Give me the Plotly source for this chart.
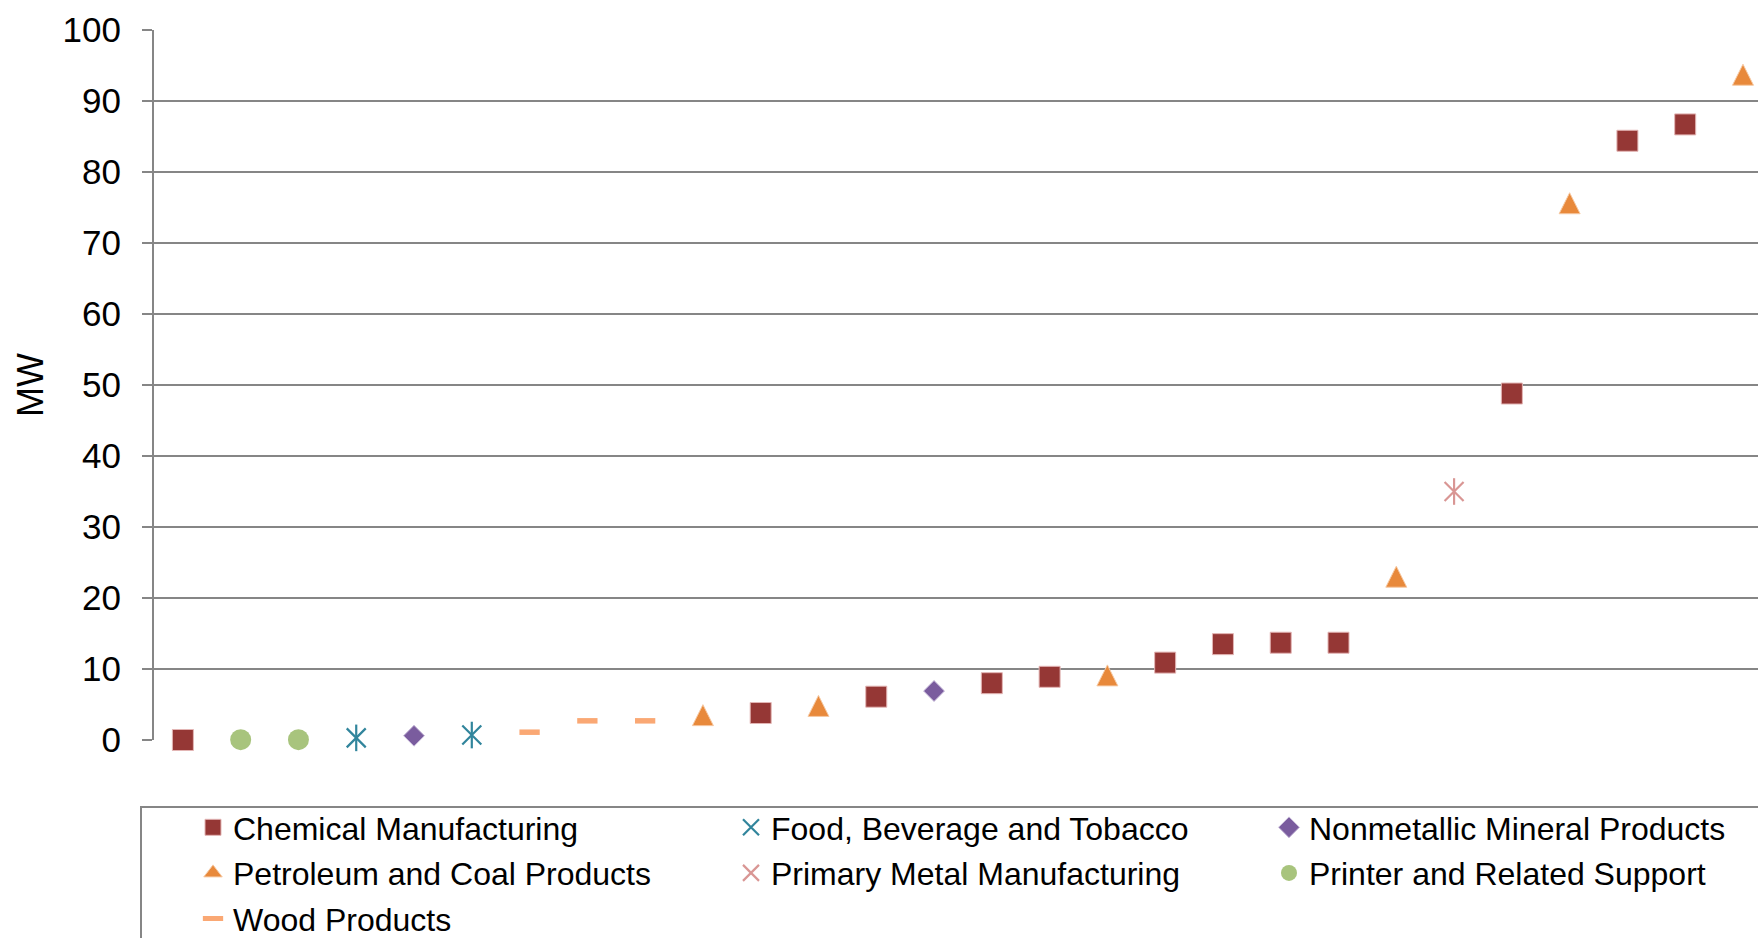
import plotly.graph_objects as go

# Facilities ranked by capacity (MW), left to right
rank = list(range(1, 29))
capacity_mw = [0.0, 0.05, 0.05, 0.3, 0.6, 0.7, 1.1, 2.7, 2.7, 3.5,
               3.8, 4.8, 6.1, 6.9, 8.0, 8.9, 9.1, 10.9, 13.5, 13.7,
               13.7, 23.0, 35.0, 48.8, 75.6, 84.4, 86.7, 93.7]
sector = [
    "Chemical Manufacturing", "Printer and Related Support", "Printer and Related Support",
    "Food, Beverage and Tobacco", "Nonmetallic Mineral Products", "Food, Beverage and Tobacco",
    "Wood Products", "Wood Products", "Wood Products",
    "Petroleum and Coal Products", "Chemical Manufacturing", "Petroleum and Coal Products",
    "Chemical Manufacturing", "Nonmetallic Mineral Products", "Chemical Manufacturing",
    "Chemical Manufacturing", "Petroleum and Coal Products", "Chemical Manufacturing",
    "Chemical Manufacturing", "Chemical Manufacturing", "Chemical Manufacturing",
    "Petroleum and Coal Products", "Primary Metal Manufacturing", "Chemical Manufacturing",
    "Petroleum and Coal Products", "Chemical Manufacturing", "Chemical Manufacturing",
    "Petroleum and Coal Products",
]
# legend columns, read top to bottom
legend_columns = [
    ["Chemical Manufacturing", "Petroleum and Coal Products", "Wood Products"],
    ["Food, Beverage and Tobacco", "Primary Metal Manufacturing"],
    ["Nonmetallic Mineral Products", "Printer and Related Support"],
]

FONT = "Arial, Liberation Sans, sans-serif"
GRID = "#868686"
STAR_SIZE = 19

styles = {
    "Chemical Manufacturing": dict(symbol="square", size=21, color="#953735",
                                   line=dict(color="#E3B5B4", width=1)),
    "Food, Beverage and Tobacco": dict(symbol="x-thin-open", size=STAR_SIZE, color="#31859C",
                                       line=dict(color="#31859C", width=2.2)),
    "Nonmetallic Mineral Products": dict(symbol="diamond", size=16, color="#7A5C9E",
                                         line=dict(color="#C3B5D6", width=1)),
    "Petroleum and Coal Products": dict(symbol="arrow-down", angle=180, standoff=10.5, size=21,
                                        color="#E8893B", line=dict(color="#F6C9A3", width=1)),
    "Primary Metal Manufacturing": dict(symbol="x-thin-open", size=STAR_SIZE, color="#D99694",
                                        line=dict(color="#D99694", width=2.2)),
    "Printer and Related Support": dict(symbol="circle", size=21, color="#A8C47D",
                                        line=dict(color="#A8C47D", width=0)),
    "Wood Products": dict(symbol="line-ew-open", size=14.5, color="#FAA874",
                          line=dict(color="#FAA874", width=5.5)),
}
# star-shaped markers get an extra vertical stroke
star_sectors = {"Food, Beverage and Tobacco", "Primary Metal Manufacturing"}
# the legend swatch of the shifted triangle uses a plain triangle symbol
legend_swatch = {
    "Petroleum and Coal Products": dict(symbol="triangle-up", size=16, color="#E8893B",
                                        line=dict(color="#F6C9A3", width=1)),
}

legend_ids = ["legend", "legend2", "legend3"]

fig = go.Figure()
for col, names in enumerate(legend_columns):
    for name in names:
        xs = [r for r, s in zip(rank, sector) if s == name]
        ys = [v for v, s in zip(capacity_mw, sector) if s == name]
        swatch = legend_swatch.get(name)
        fig.add_trace(go.Scatter(
            x=xs, y=ys, mode="markers", name=name, legendgroup=name,
            legend=legend_ids[col], showlegend=swatch is None,
            marker=styles[name], cliponaxis=False,
        ))
        if swatch is not None:
            fig.add_trace(go.Scatter(
                x=[None], y=[None], mode="markers", name=name, legendgroup=name,
                legend=legend_ids[col], marker=swatch, hoverinfo="skip",
            ))
        if name in star_sectors:
            c = styles[name]["color"]
            fig.add_trace(go.Scatter(
                x=xs, y=ys, mode="markers", name=name, legendgroup=name, showlegend=False,
                marker=dict(symbol="line-ns-open", size=STAR_SIZE, color=c,
                            line=dict(color=c, width=2.2)),
                cliponaxis=False,
            ))

W, H = 1758, 938
ML, MT, MB = 154, 30, 198
plot_w = W - ML
plot_h = H - MT - MB


def px_x(x):
    return (x - ML) / plot_w


def px_y(y):
    return (H - MB - y) / plot_h


# frame around the legend
fig.add_shape(type="rect", xref="paper", yref="paper",
              x0=px_x(141), x1=px_x(1790), y0=px_y(980), y1=px_y(807),
              line=dict(color=GRID, width=2), fillcolor="rgba(0,0,0,0)", layer="above")

legend_style = dict(
    orientation="v", xanchor="left", yanchor="top",
    font=dict(family=FONT, size=32, color="black"),
    bgcolor="rgba(0,0,0,0)", borderwidth=0, tracegroupgap=1,
    itemclick=False, itemdoubleclick=False,
)
legend_left_px = [193, 731, 1269]
legend_top_px = 800

fig.update_layout(
    width=W, height=H,
    margin=dict(l=ML, r=0, t=MT, b=MB, autoexpand=False),
    paper_bgcolor="white", plot_bgcolor="white",
    font=dict(family=FONT, color="black", size=32),
    showlegend=True,
    legend=dict(legend_style, x=px_x(legend_left_px[0]), y=px_y(legend_top_px)),
    legend2=dict(legend_style, x=px_x(legend_left_px[1]), y=px_y(legend_top_px)),
    legend3=dict(legend_style, x=px_x(legend_left_px[2]), y=px_y(legend_top_px)),
    xaxis=dict(range=[0.5, 28.26], showgrid=False, zeroline=False, showticklabels=False,
               ticks="", showline=False, fixedrange=True),
    yaxis=dict(range=[0, 100], dtick=10, tick0=0, showgrid=True, gridcolor=GRID, gridwidth=2,
               zeroline=False, showline=True, linecolor=GRID, linewidth=2,
               ticks="outside", ticklen=10, tickcolor=GRID, tickwidth=2,
               ticklabelstandoff=14,
               tickfont=dict(family=FONT, size=35, color="black"),
               title=dict(text="MW", font=dict(family=FONT, size=36, color="black"), standoff=8),
               fixedrange=True),
)

fig.write_html("out.html")
